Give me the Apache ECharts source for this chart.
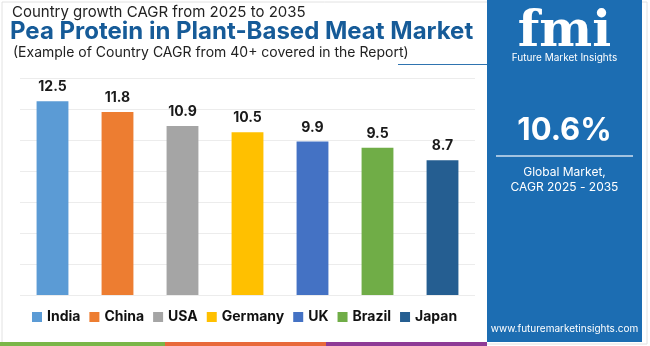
<!DOCTYPE html>
<html><head><meta charset="utf-8">
<script src="https://cdn.jsdelivr.net/npm/echarts@6/dist/echarts.min.js"></script>
<style>html,body{margin:0;padding:0;background:#fff}#c{width:650px;height:346px}</style>
</head><body><div id="c"></div>
<script>
const categories = ['India','China','USA','Germany','UK','Brazil','Japan'];
const values = [12.5, 11.8, 10.9, 10.5, 9.9, 9.5, 8.7];
const colors = ['#5b9bd5','#ed7d31','#a5a5a5','#ffc000','#4472c4','#70ad47','#255e91'];
const yTicks = [0, 2, 4, 6, 8, 10, 12, 14];
const FONT = 'Inter, "Open Sans", sans-serif';

const chart = echarts.init(document.getElementById('c'), null, {renderer:'canvas'});
const series = categories.map((name, i) => ({
  name, type:'bar', stack:'t', barWidth:'49%',
  itemStyle:{color:colors[i]},
  label:{show:true, position:'top', distance:7, color:'#1a1a1a', fontFamily:FONT, fontWeight:'bold', fontSize:14},
  data: categories.map((c, j) => j === i ? values[i] : null)
}));
const panelX = 487, panelW = 155, pc = panelX + panelW/2;
chart.setOption({
  animation:false,
  grid:{left:20, right:175, top:78, bottom:51},
  xAxis:{type:'category', data:categories, axisLine:{show:false}, axisTick:{show:false}, axisLabel:{show:false}},
  yAxis:{type:'value', min:yTicks[0], max:yTicks[yTicks.length-1], interval:2, axisLabel:{show:false},
    axisLine:{show:false}, axisTick:{show:false}, splitLine:{lineStyle:{color:'#ececec', width:1}}},
  legend:{data:categories, bottom:17, left:27, itemWidth:10, itemHeight:10, itemGap:9, icon:'rect',
    textStyle:{fontFamily:FONT, fontWeight:'bold', fontSize:14, color:'#111'}},
  series,
  graphic:[
    {type:'rect', shape:{x:2, y:2, width:645, height:342}, style:{fill:'none', stroke:'#e2e2e2', lineWidth:1}, z:-1},
    {type:'text', left:12, top:5, style:{text:'Country growth CAGR from 2025 to 2035', fontFamily:FONT, fontSize:15, fill:'#222'}},
    {type:'text', left:10, top:20, style:{text:'Pea Protein in Plant-Based Meat Market', fontFamily:FONT, fontWeight:'bold', fontSize:24, fill:'#165b98'}},
    {type:'text', left:13, top:46, style:{text:'(Example of Country CAGR from 40+ covered in the Report)', fontFamily:FONT, fontSize:14, fill:'#222'}},
    {type:'line', shape:{x1:398, y1:64.5, x2:panelX, y2:64.5}, style:{stroke:'#2f74b0', lineWidth:1}},
    {type:'rect', shape:{x:panelX, y:0, width:panelW, height:342}, style:{fill:'#1c6db2'}},
    {type:'text', x:pc, y:8, style:{text:'fmi', fontFamily:'"DejaVu Serif", serif', fontWeight:'bold', fontSize:50, fill:'#fff', align:'center', verticalAlign:'top'}},
    {type:'text', x:pc, y:53, style:{text:'Future Market Insights', fontFamily:FONT, fontSize:10, fill:'#fff', align:'center', verticalAlign:'top'}},
    {type:'text', x:pc, y:115, style:{text:'10.6%', fontFamily:FONT, fontWeight:'bold', fontSize:31, fill:'#fff', align:'center', verticalAlign:'top'}},
    {type:'line', shape:{x1:496, y1:156, x2:633, y2:156}, style:{stroke:'#cfe0f0', lineWidth:1.5}},
    {type:'text', x:pc, y:165, style:{text:'Global Market,\nCAGR 2025 - 2035', fontFamily:FONT, fontSize:12, lineHeight:15, fill:'#fff', align:'center', verticalAlign:'top'}},
    {type:'text', x:pc, y:324, style:{text:'www.futuremarketinsights.com', fontFamily:FONT, fontSize:10, fill:'#fff', align:'center', verticalAlign:'top'}},
    {type:'rect', shape:{x:0, y:342, width:165, height:4}, style:{fill:'#7ab648'}},
    {type:'rect', shape:{x:165, y:342, width:161, height:4}, style:{fill:'#e8693a'}},
    {type:'rect', shape:{x:326, y:342, width:161, height:4}, style:{fill:'#8e3a96'}}
  ]
});
</script></body></html>
